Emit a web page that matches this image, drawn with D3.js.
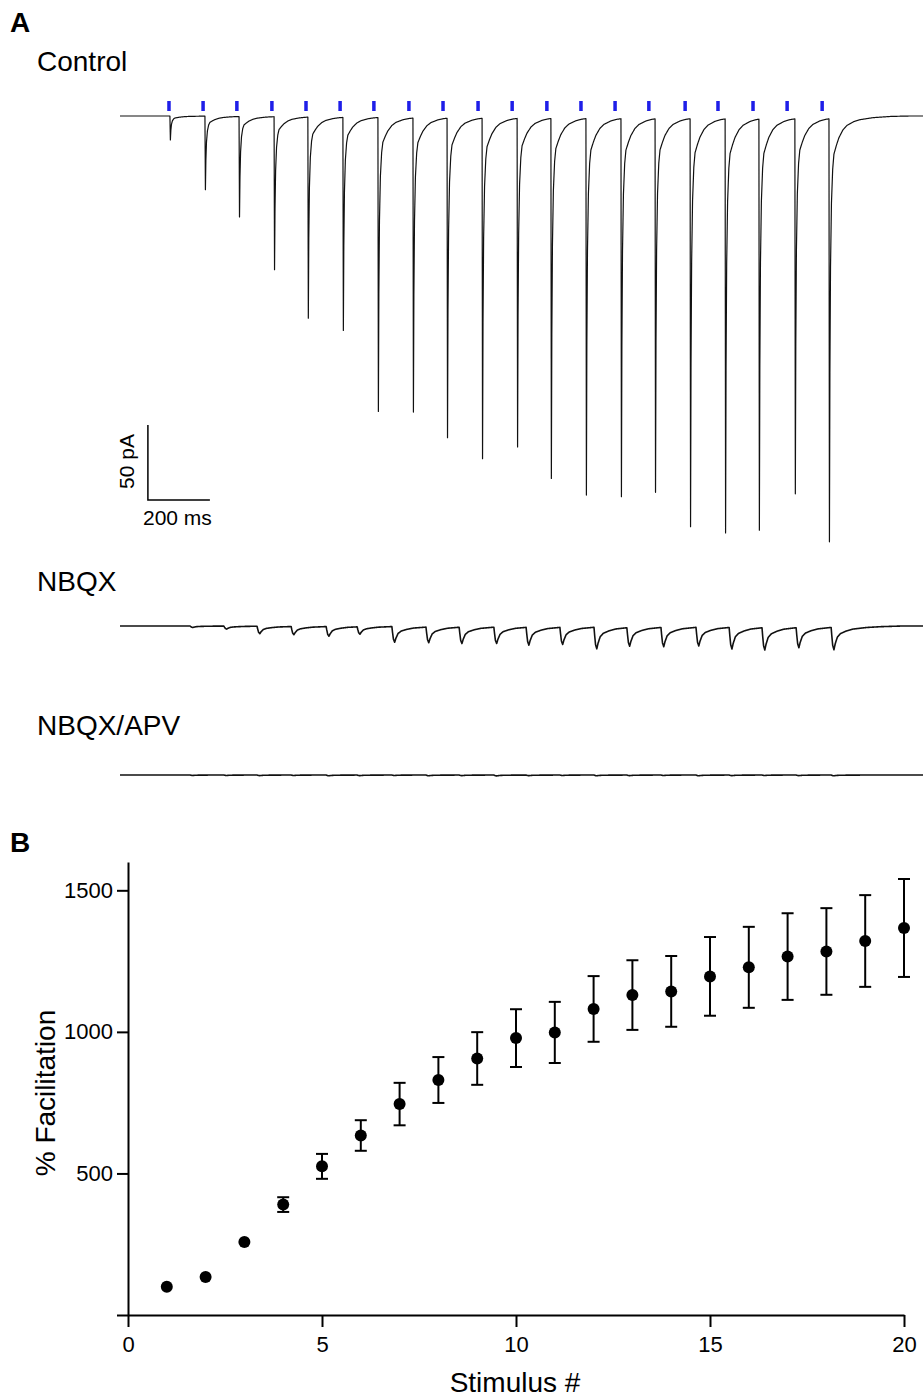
<!DOCTYPE html>
<html>
<head>
<meta charset="utf-8">
<title>Train facilitation</title>
<script src="https://d3js.org/d3.v7.min.js"></script>
<style>
  body { margin: 0; background: #fff; }
  svg { display: block; font-family: "Liberation Sans", Arial, Helvetica, sans-serif; }
  .trace { fill: none; stroke: #111; stroke-linejoin: round; }
  .axis path, .axis line { stroke: #000; stroke-width: 2; }
  .axis text { fill: #000; font-size: 22px; font-family: "Liberation Sans", Arial, sans-serif; }
</style>
</head>
<body>
<div id="fig"></div>
<script>
// ---- panel A (ms from start of sweep, pA) ----
var stimMs     = [158, 268, 377, 490, 600, 710, 819, 932, 1042, 1155, 1265, 1377, 1487, 1597, 1706, 1823, 1929, 2042, 2152, 2265];
var controlMs  = [161, 274, 384, 497, 606, 719, 832, 945, 1055, 1168, 1281, 1390, 1503, 1616, 1726, 1839, 1952, 2061, 2177, 2287];
var controlAmp = [16, 49, 67, 102, 134, 142, 196, 196, 213, 227, 219, 240, 251, 252, 249, 272, 276, 274, 250, 282];
var nbqxMs     = [226, 335, 442, 552, 665, 765, 877, 987, 1094, 1206, 1310, 1419, 1529, 1635, 1745, 1858, 1965, 2071, 2181, 2294];
var nbqxAmp    = [1, 2, 5, 5.5, 6.5, 5, 10.5, 10.5, 11, 11, 12, 11.5, 14.5, 12.5, 13, 12.5, 14.5, 15, 13.5, 15];
var apvAmp     = [0.3, 0.3, 0.4, 0.3, 0.5, 0.4, 0.3, 0.5, 0.4, 0.6, 0.4, 0.3, 0.5, 0.4, 0.3, 0.5, 0.4, 0.3, 0.4, 0.5];
var sweepMs = 2600;

// EPSC shapes taken off the traces: [ms after onset, fraction of peak]
var fastShape = [[0,0],[1.5,1],[3,0.6],[5,0.35],[8,0.2],[12,0.12],[16,0.085],[24,0.065],[32,0.048],[45,0.03],[58,0.02],[80,0.012],[100,0.008],[140,0.004],[200,0.001],[260,0]];
var slowShape = [[0,0],[2,0.35],[5,0.8],[9,1],[13,0.75],[20,0.45],[30,0.3],[48,0.2],[70,0.12],[110,0.07],[160,0.03],[230,0]];

// ---- panel B ----
var stimulus = [1, 2, 3, 4, 5, 6, 7, 8, 9, 10, 11, 12, 13, 14, 15, 16, 17, 18, 19, 20];
var facil    = [100, 134, 258, 390, 525, 634, 745, 830, 906, 978, 998, 1081, 1130, 1143, 1196, 1228, 1266, 1284, 1321, 1367];
var facilSem = [0, 8, 12, 26, 44, 54, 75, 81, 93, 102, 108, 116, 123, 125, 139, 143, 153, 153, 162, 173];
var xTicks = [0, 5, 10, 15, 20];
var yTicks = [0, 500, 1000, 1500];

var W = 923, H = 1398;
var svg = d3.select("#fig").append("svg").attr("width", W).attr("height", H);

// time and current scales shared by the three sweeps and the scale bar
var t = d3.scaleLinear().domain([0, sweepMs]).range([120, 120 + sweepMs * 0.31]);
var pA = d3.scaleLinear().domain([0, 50]).range([0, 75]);

function sweep(onsets, amps, shape) {
  var k = d3.scaleLinear().domain(shape.map(function(d){ return d[0]; }))
    .range(shape.map(function(d){ return d[1]; })).clamp(true);
  var pts = [];
  for (var ms = 0; ms <= sweepMs; ms += 0.5) {
    var v = 0;
    onsets.forEach(function(o, i){ if (ms >= o) v += amps[i] * k(ms - o); });
    pts.push([ms, v]);
  }
  return pts;
}

function drawSweep(pts, base, width) {
  var line = d3.line().x(function(d){ return t(d[0]); }).y(function(d){ return base + pA(d[1]); });
  svg.append("path").attr("class", "trace").attr("stroke-width", width).attr("d", line(pts));
}

svg.append("text").attr("x", 10).attr("y", 32).attr("font-size", 28).attr("font-weight", "bold").text("A");
svg.append("text").attr("x", 37).attr("y", 71).attr("font-size", 28).text("Control");
svg.append("text").attr("x", 37).attr("y", 591).attr("font-size", 28).text("NBQX");
svg.append("text").attr("x", 37).attr("y", 735).attr("font-size", 28).text("NBQX/APV");

// blue stimulus marks
svg.selectAll("rect.stim").data(stimMs).enter().append("rect")
  .attr("class", "stim")
  .attr("x", function(d){ return t(d) - 1.75; })
  .attr("y", 101).attr("width", 3.5).attr("height", 10)
  .attr("fill", "#1e1ee8");

drawSweep(sweep(controlMs, controlAmp, fastShape), 116, 1.2);
drawSweep(sweep(nbqxMs, nbqxAmp, slowShape), 626, 1.6);
drawSweep(sweep(nbqxMs, apvAmp, slowShape), 775, 1.6);

// scale bar
var sb0 = 90, sbY = 500;
svg.append("path").attr("fill", "none").attr("stroke", "#000").attr("stroke-width", 1.5)
  .attr("d", "M" + t(sb0) + "," + (sbY - pA(50)) + "V" + sbY + "H" + t(sb0 + 200));
svg.append("text").attr("transform", "translate(134," + (sbY - pA(25) - 1) + ") rotate(-90)")
  .attr("text-anchor", "middle").attr("font-size", 21).text("50 pA");
svg.append("text").attr("x", 143).attr("y", 525).attr("font-size", 21).text("200 ms");

// ---- panel B ----
svg.append("text").attr("x", 10).attr("y", 852).attr("font-size", 28).attr("font-weight", "bold").text("B");

var x = d3.scaleLinear().domain([0, 20]).range([128, 904]);
var y = d3.scaleLinear().domain([0, 1600]).range([1315, 862]);

svg.append("g").attr("class", "axis").attr("transform", "translate(0,1315)")
  .call(d3.axisBottom(x).tickValues(xTicks).tickSize(12).tickSizeOuter(0).tickPadding(9));
svg.append("g").attr("class", "axis").attr("transform", "translate(128,0)")
  .call(d3.axisLeft(y).tickValues(yTicks).tickSize(11).tickSizeOuter(0).tickPadding(4)
    .tickFormat(function(d){ return d === 0 ? "" : d; }));

svg.append("text").attr("x", 515).attr("y", 1392).attr("text-anchor", "middle").attr("font-size", 28).text("Stimulus #");
svg.append("text").attr("transform", "translate(55,1093) rotate(-90)")
  .attr("text-anchor", "middle").attr("font-size", 28).text("% Facilitation");

var r = 6;
var pts = stimulus.map(function(s, i){ return { s: s, m: facil[i], e: facilSem[i] }; });
var eb = svg.append("g").attr("stroke", "#000").attr("stroke-width", 2);
pts.forEach(function(d){
  // bars shorter than the dot are hidden behind it, as in the original
  if (y(d.m) - y(d.m + d.e) <= r) return;
  eb.append("line").attr("x1", x(d.s)).attr("x2", x(d.s)).attr("y1", y(d.m - d.e)).attr("y2", y(d.m + d.e));
  eb.append("line").attr("x1", x(d.s) - 6).attr("x2", x(d.s) + 6).attr("y1", y(d.m + d.e)).attr("y2", y(d.m + d.e));
  eb.append("line").attr("x1", x(d.s) - 6).attr("x2", x(d.s) + 6).attr("y1", y(d.m - d.e)).attr("y2", y(d.m - d.e));
});
svg.selectAll("circle.pt").data(pts).enter().append("circle")
  .attr("class", "pt")
  .attr("cx", function(d){ return x(d.s); })
  .attr("cy", function(d){ return y(d.m); })
  .attr("r", r).attr("fill", "#000");
</script>
</body>
</html>
